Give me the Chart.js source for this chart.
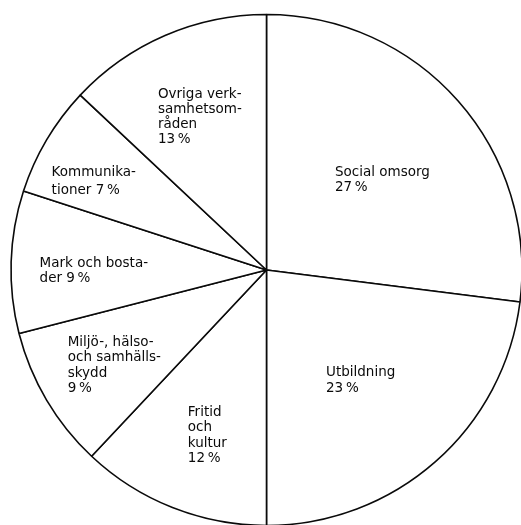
<!DOCTYPE html>
<html>
<head>
<meta charset="utf-8">
<script src="https://cdn.jsdelivr.net/npm/chart.js@4/dist/chart.umd.min.js"></script>
<style>
  html, body { margin: 0; padding: 0; background: #fff; }
  #c { display: block; }
</style>
</head>
<body>
<canvas id="c" width="521" height="525"></canvas>
<script>
// ---- data (clockwise from 12 o'clock) ----
const categories = [
  "Social omsorg",
  "Utbildning",
  "Fritid och kultur",
  "Miljö-, hälso- och samhällsskydd",
  "Mark och bostäder",
  "Kommunikationer",
  "Övriga verksamhetsområden"
];
const shares = [27, 23, 12, 9, 9, 7, 13];

// label text as broken into lines in the picture
const labelLines = [
  ["Social omsorg"],
  ["Utbildning"],
  ["Fritid", "och", "kultur"],
  ["Miljö-, hälso-", "och samhälls-", "skydd"],
  ["Mark och bosta-", "der"],
  ["Kommunika-", "tioner"],
  ["Ovriga verk-", "samhetsom-", "råden"]
];
// whether the percentage sits on the last text line (true) or on its own line
const pctInline = [false, false, false, false, true, true, false];

// label anchor (left edge, first line centre) relative to pie centre, in units of radius
const labelAnchor = [
  [0.268, -0.380],
  [0.233, 0.400],
  [-0.308, 0.557],
  [-0.778, 0.282],
  [-0.888, -0.024],
  [-0.841, -0.380],
  [-0.425, -0.686]
];
const labelLineGap = [15, 16, 15.5, 15.5, 15, 17.5, 15];

const labelPlugin = {
  id: 'sliceLabels',
  afterDatasetsDraw(chart) {
    const ctx = chart.ctx;
    const arc = chart.getDatasetMeta(0).data[0];
    const cx = arc.x, cy = arc.y, r = arc.outerRadius;
    ctx.save();
    ctx.fillStyle = '#0a0a0a';
    ctx.font = '13.5px "DejaVu Sans"';
    ctx.textAlign = 'left';
    ctx.textBaseline = 'middle';
    shares.forEach((v, i) => {
      const lines = labelLines[i].slice();
      const pct = v + '\u2009%';
      if (pctInline[i]) lines[lines.length - 1] += ' ' + pct;
      else lines.push(pct);
      const x = cx + labelAnchor[i][0] * r;
      const y = cy + labelAnchor[i][1] * r;
      lines.forEach((t, k) => ctx.fillText(t, x, y + k * labelLineGap[i]));
    });
    ctx.restore();
  }
};

new Chart(document.getElementById('c'), {
  type: 'pie',
  data: {
    labels: categories,
    datasets: [{
      data: shares,
      backgroundColor: '#ffffff',
      borderColor: '#0a0a0a',
      borderWidth: 1.6,
      hoverOffset: 0,
      radius: 255.5
    }]
  },
  options: {
    responsive: false,
    animation: false,
    events: [],
    layout: { padding: { left: 12, top: 15, right: 0, bottom: 0 } },
    plugins: {
      legend: { display: false },
      tooltip: { enabled: false }
    }
  },
  plugins: [labelPlugin]
});
</script>
</body>
</html>
